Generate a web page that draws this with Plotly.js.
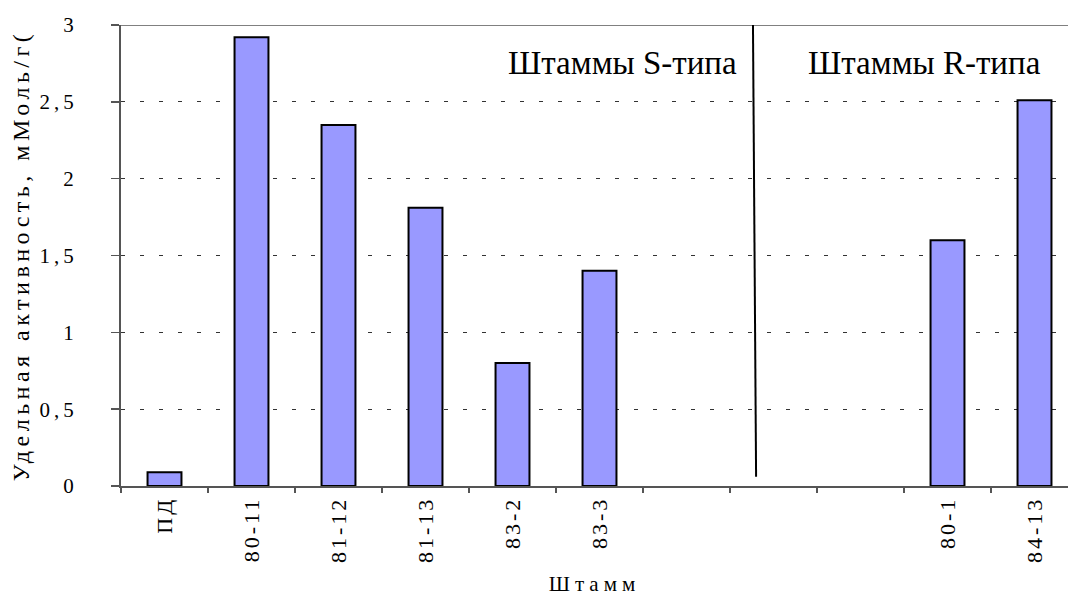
<!DOCTYPE html>
<html>
<head>
<meta charset="utf-8">
<script src="https://cdn.plot.ly/plotly-3.0.1.min.js"></script>
<style>
  html, body { margin: 0; padding: 0; background: #fff; }
  #chart { width: 1068px; height: 596px; }
  .xtick text { letter-spacing: 3px; }
  .ytick text { letter-spacing: 4px; }
  .g-ytitle text { letter-spacing: 4.5px; }
  .g-xtitle text { letter-spacing: 5px; }
</style>
</head>
<body>
<div id="chart"></div>
<script>
// Strains (empty slots are the gap between S-type and R-type groups)
const strains = ['ПД', '80-11', '81-12', '81-13', '83-2', '83-3', '', '', '', '80-1', '84-13'];
// Specific activity, mMol/g
const activity = [0.09, 2.92, 2.35, 1.81, 0.80, 1.40, null, null, null, 1.60, 2.51];
// Y-axis tick values and labels
const yTickVals = [0, 0.5, 1, 1.5, 2, 2.5, 3];
const yTickText = ['0', '0,5', '1', '1,5', '2', '2,5', '3'];
// Group labels
const groupLabels = ['Штаммы S-типа', 'Штаммы R-типа'];

const xIdx = strains.map((_, i) => i);
const serif = 'Liberation Serif, Times New Roman, serif';

const trace = {
  type: 'bar',
  x: xIdx,
  y: activity,
  width: 0.39,
  marker: { color: '#9999FF', line: { color: '#000000', width: 2 } },
  hoverinfo: 'skip'
};

const layout = {
  width: 1068,
  height: 596,
  margin: { l: 121, r: 0, t: 25, b: 110 },
  paper_bgcolor: '#ffffff',
  plot_bgcolor: '#ffffff',
  showlegend: false,
  font: { family: serif, color: '#000000', size: 20 },
  xaxis: {
    type: 'linear',
    range: [-0.5, -0.5 + 947 / 87],
    tickmode: 'array',
    tickvals: xIdx,
    ticktext: strains,
    tickangle: -90,
    ticks: '',
    tickfont: { family: serif, size: 22, color: '#000' },
    showgrid: false,
    zeroline: false,
    showline: true,
    linecolor: '#555555',
    linewidth: 2,
    minor: { tickmode: 'linear', tick0: -0.5, dtick: 1, ticks: 'outside', ticklen: 5, tickwidth: 1.5, tickcolor: '#555555', showgrid: false },
    title: { text: 'Штамм', font: { family: serif, size: 21, color: '#000' }, standoff: 17 },
    fixedrange: true
  },
  yaxis: {
    range: [0, 3],
    tickmode: 'array',
    tickvals: yTickVals,
    ticktext: yTickText,
    ticks: 'outside',
    ticklen: 8,
    tickwidth: 1.5,
    tickcolor: '#555555',
    tickfont: { family: serif, size: 21, color: '#000' },
    ticklabelstandoff: 29,
    showgrid: true,
    gridcolor: '#333333',
    gridwidth: 1,
    griddash: '4px,15px',
    zeroline: false,
    showline: true,
    linecolor: '#555555',
    linewidth: 2,
    title: { text: 'Удельная активность, мМоль/г(', font: { family: serif, size: 24, color: '#000' }, standoff: 3 },
    fixedrange: true
  },
  shapes: [
    { type: 'line', xref: 'paper', yref: 'y', x0: 0, x1: 1, y0: 3, y1: 3, line: { color: '#808080', width: 2 } },
    { type: 'line', xref: 'x', yref: 'y', x0: 6.764, y0: 3, x1: 6.80, y1: 0.06, line: { color: '#000000', width: 2 } }
  ],
  annotations: [
    { text: groupLabels[0], xref: 'x', yref: 'y', x: 5.26, y: 2.75, showarrow: false, xanchor: 'center', yanchor: 'middle', font: { family: serif, size: 33, color: '#000' } },
    { text: groupLabels[1], xref: 'x', yref: 'y', x: 8.74, y: 2.75, showarrow: false, xanchor: 'center', yanchor: 'middle', font: { family: serif, size: 33, color: '#000' } }
  ]
};

Plotly.newPlot('chart', [trace], layout, { staticPlot: true, displayModeBar: false });
</script>
</body>
</html>
